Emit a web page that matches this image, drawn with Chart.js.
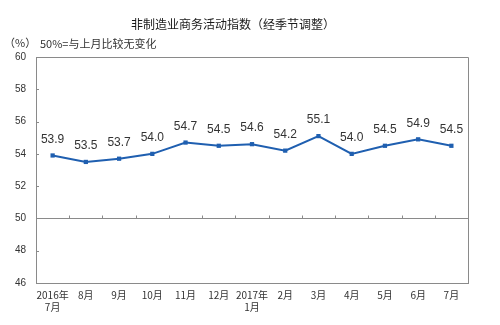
<!DOCTYPE html>
<html>
<head>
<meta charset="utf-8">
<script src="https://cdn.jsdelivr.net/npm/chart.js@4"></script>
<style>
  html, body { margin: 0; padding: 0; background: #fff; }
  #wrap { width: 500px; height: 325px; position: relative; }
</style>
</head>
<body>
<div id="wrap"><canvas id="lineChart" width="500" height="325"></canvas></div>
<script>
// data
const months = [['2016年', '7月'], '8月', '9月', '10月', '11月', '12月', ['2017年', '1月'], '2月', '3月', '4月', '5月', '6月', '7月'];
const values = [53.9, 53.5, 53.7, 54.0, 54.7, 54.5, 54.6, 54.2, 55.1, 54.0, 54.5, 54.9, 54.5];
const yTicks = [46, 48, 50, 52, 54, 56, 58, 60];

const titleText = '非制造业商务活动指数（经季节调整）';
const unitText = '（%）';
const noteText = '50%=与上月比较无变化';

const LINE_COLOR = '#1f5fb0';
const AXIS_COLOR = '#8a8a8a';
const TEXT_COLOR = '#333';

// frame, inward ticks, 50 line marks, value labels and titles
const decorPlugin = {
  id: 'decor',
  afterDraw(chart) {
    const ctx = chart.ctx;
    const area = chart.chartArea;
    const xs = chart.scales.x;
    const ys = chart.scales.y;
    ctx.save();
    ctx.strokeStyle = AXIS_COLOR;
    ctx.lineWidth = 1;
    // top and right of the box
    ctx.beginPath();
    ctx.moveTo(area.left, area.top + 0.5);
    ctx.lineTo(area.right + 0.5, area.top + 0.5);
    ctx.lineTo(area.right + 0.5, area.bottom);
    ctx.stroke();
    // small inward ticks on the y axis
    yTicks.forEach(v => {
      const y = Math.round(ys.getPixelForValue(v)) + 0.5;
      ctx.beginPath();
      ctx.moveTo(area.left, y);
      ctx.lineTo(area.left + 3, y);
      ctx.stroke();
    });
    // tick marks between categories on the 50 line
    const y50 = Math.round(ys.getPixelForValue(50)) + 0.5;
    for (let i = 1; i < months.length; i++) {
      const x = Math.round((xs.getPixelForValue(i - 1) + xs.getPixelForValue(i)) / 2) + 0.5;
      ctx.beginPath();
      ctx.moveTo(x, y50);
      ctx.lineTo(x, y50 - 3);
      ctx.stroke();
    }
    // value labels
    const meta = chart.getDatasetMeta(0);
    ctx.fillStyle = TEXT_COLOR;
    ctx.font = '12px "Liberation Sans", Arial, sans-serif';
    ctx.textAlign = 'center';
    ctx.textBaseline = 'middle';
    meta.data.forEach((pt, i) => {
      ctx.fillText(values[i].toFixed(1), pt.x, pt.y - 16);
    });
    // titles
    ctx.font = '12px "Noto Sans CJK SC", sans-serif';
    ctx.fillStyle = '#1a1a1a';
    ctx.fillText(titleText, 233, 24);
    ctx.font = '11px "Noto Sans CJK SC", sans-serif';
    ctx.fillStyle = TEXT_COLOR;
    ctx.textAlign = 'left';
    ctx.fillText(unitText, 4, 43);
    ctx.fillText(noteText, 40, 44);
    ctx.restore();
  }
};

window.lineChartInstance = new Chart(document.getElementById('lineChart').getContext('2d'), {
  type: 'line',
  data: {
    labels: months,
    datasets: [{
      label: '非制造业商务活动指数',
      data: values,
      borderColor: LINE_COLOR,
      backgroundColor: LINE_COLOR,
      borderWidth: 2,
      tension: 0,
      pointStyle: 'rect',
      pointRadius: 3,
      pointBorderWidth: 0
    }]
  },
  options: {
    responsive: false,
    animation: false,
    layout: { padding: { top: 57, right: 32, left: 0, bottom: 0 } },
    plugins: {
      legend: { display: false },
      tooltip: { enabled: false }
    },
    scales: {
      x: {
        offset: true,
        grid: { display: false, drawTicks: false },
        border: { display: true, color: AXIS_COLOR, width: 1 },
        ticks: {
          color: TEXT_COLOR,
          font: { size: 10, family: '"Noto Sans CJK SC", sans-serif' },
          padding: 6,
          maxRotation: 0,
          autoSkip: false
        },
        afterFit(scale) { scale.height = 42; }
      },
      y: {
        min: 46,
        max: 60,
        afterBuildTicks(scale) { scale.ticks = yTicks.map(v => ({ value: v })); },
        grid: {
          drawTicks: false,
          color: ctx => (ctx.tick && ctx.tick.value === 50 ? AXIS_COLOR : 'rgba(0,0,0,0)'),
          lineWidth: 1
        },
        border: { display: true, color: AXIS_COLOR, width: 1 },
        ticks: {
          color: TEXT_COLOR,
          font: { size: 10, family: '"Liberation Sans", Arial, sans-serif' },
          padding: 10
        },
        afterFit(scale) { scale.width = 36; }
      }
    }
  },
  plugins: [decorPlugin]
});
</script>
</body>
</html>
